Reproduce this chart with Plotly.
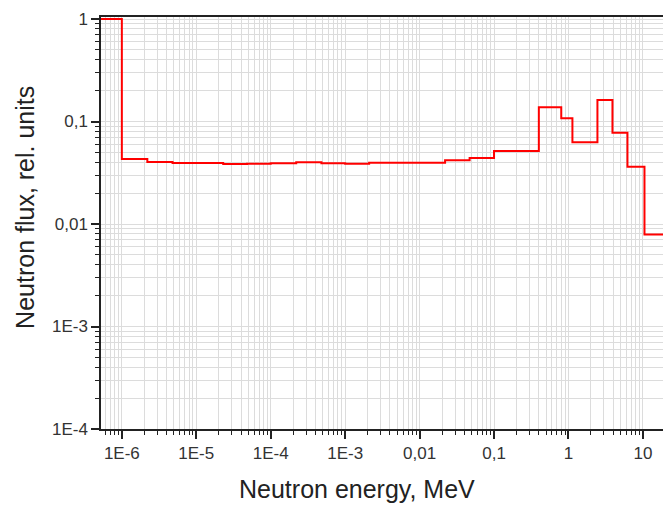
import plotly.graph_objects as go

# Bin edges (MeV) and flux per bin (relative units)
bin_edges = [4e-7, 1.0e-6, 2.2e-6, 4.8e-6, 2.3e-5, 4.8e-5, 1.0e-4, 2.2e-4, 4.8e-4,
             1.0e-3, 2.1e-3, 0.022, 0.047, 0.1, 0.4, 0.8, 1.13, 2.45, 3.9, 6.2, 10.5, 30]
flux = [1.0, 0.0431, 0.0403, 0.0394, 0.0385, 0.0388, 0.0391, 0.0400, 0.0391,
        0.0388, 0.0396, 0.0418, 0.0440, 0.0515, 0.1376, 0.1074, 0.0627, 0.162,
        0.0778, 0.0362, 0.0079]

x_tickvals = [1e-6, 1e-5, 1e-4, 1e-3, 0.01, 0.1, 1, 10]
x_ticktext = ["1E-6", "1E-5", "1E-4", "1E-3", "0,01", "0,1", "1", "10"]
y_tickvals = [1e-4, 1e-3, 0.01, 0.1, 1]
y_ticktext = ["1E-4", "1E-3", "0,01", "0,1", "1"]
x_title = "Neutron energy, MeV"
y_title = "Neutron flux, rel. units"

xs = bin_edges[:-1] + [bin_edges[-1]]
ys = flux + [flux[-1]]

def minor_vals(lo, hi):
    out = []
    for k in range(lo, hi + 1):
        for d in range(2, 10):
            out.append(d * 10.0 ** k)
    return out

fig = go.Figure()
fig.add_trace(go.Scatter(x=xs, y=ys, mode="lines", line=dict(color="#ff0000", width=2, shape="hv"),
                         showlegend=False))

grid_col = "#dcdcdc"
font_family = "Liberation Sans, Arial, sans-serif"

fig.update_xaxes(type="log", range=[-6.28, 1.27],
                 tickmode="array", tickvals=x_tickvals, ticktext=x_ticktext,
                 ticks="outside", ticklen=8, tickwidth=1.5, tickcolor="#222",
                 showline=True, linecolor="#222", linewidth=1.5, mirror=True,
                 showgrid=True, gridcolor=grid_col, gridwidth=1,
                 minor=dict(tickmode="array", tickvals=minor_vals(-7, 1), ticks="outside",
                            ticklen=4, tickcolor="#222", tickwidth=1.2,
                            showgrid=True, gridcolor=grid_col, gridwidth=1),
                 tickfont=dict(size=17, color="#333", family=font_family),
                 zeroline=False)
fig.update_yaxes(type="log", range=[-4, 0.02],
                 tickmode="array", tickvals=y_tickvals, ticktext=y_ticktext,
                 ticks="outside", ticklen=8, tickwidth=1.5, tickcolor="#222",
                 showline=True, linecolor="#222", linewidth=1.5, mirror=False,
                 showgrid=True, gridcolor=grid_col, gridwidth=1,
                 minor=dict(tickmode="array", tickvals=minor_vals(-5, 0), ticks="outside",
                            ticklen=4, tickcolor="#222", tickwidth=1.2,
                            showgrid=True, gridcolor=grid_col, gridwidth=1),
                 tickfont=dict(size=17, color="#333", family=font_family),
                 zeroline=False)

fig.add_annotation(text=x_title, xref="paper", yref="paper", x=0.4555, y=-0.146,
                   xanchor="center", yanchor="middle", showarrow=False,
                   font=dict(size=25, color="#222", family=font_family))
fig.add_annotation(text=y_title, xref="paper", yref="paper", x=-0.135, y=0.537,
                   xanchor="center", yanchor="middle", showarrow=False, textangle=-90,
                   font=dict(size=25, color="#222", family=font_family))

fig.update_layout(width=663, height=505, margin=dict(l=101, r=0, t=17, b=76),
                  paper_bgcolor="white", plot_bgcolor="white")

fig.write_html("out.html")
